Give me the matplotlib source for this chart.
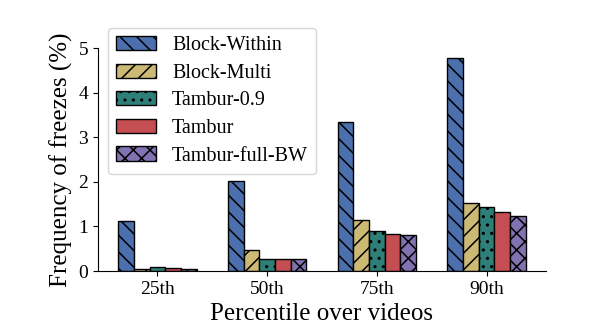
import matplotlib.pyplot as plt
import numpy as np

plt.rcParams["font.family"] = ["Liberation Serif", "DejaVu Serif"]
plt.rcParams["hatch.linewidth"] = 1.1

percentiles = ["25th", "50th", "75th", "90th"]
schemes = ["Block-Within", "Block-Multi", "Tambur-0.9", "Tambur", "Tambur-full-BW"]
block_within = [1.13, 2.02, 3.34, 4.77]
block_multi = [0.05, 0.48, 1.14, 1.52]
tambur_09 = [0.10, 0.28, 0.90, 1.43]
tambur = [0.06, 0.27, 0.83, 1.32]
tambur_full_bw = [0.05, 0.27, 0.80, 1.23]

colors = ["#4C6FAE", "#CCB974", "#2E7F78", "#C44E52", "#8172B2"]
hatches = ["\\\\", "//", "..", "", "xx"]

fig = plt.figure(figsize=(6.15, 3.35), dpi=100)
ax = fig.add_axes([0.159, 0.191, 0.729, 0.665])

x = np.arange(len(percentiles))
width = 0.143
series = [block_within, block_multi, tambur_09, tambur, tambur_full_bw]
for i, (name, vals) in enumerate(zip(schemes, series)):
    ax.bar(x + (i - 2) * width, vals, width, label=name, color=colors[i],
           hatch=hatches[i], edgecolor="black", linewidth=1.0)

ax.set_xticks(x)
ax.set_xticklabels(percentiles, fontsize=14)
ax.tick_params(axis="y", labelsize=14)
ax.set_ylim(0, 5.0)
ax.set_yticks([0, 1, 2, 3, 4, 5])
ax.set_xlabel("Percentile over videos", fontsize=18)
ax.set_ylabel("Frequency of freezes (%)", fontsize=18)
ax.spines["top"].set_visible(False)
ax.spines["right"].set_visible(False)
ax.legend(loc="upper left", fontsize=14.5, bbox_to_anchor=(0.022, 1.09),
          borderaxespad=0, handlelength=2.0, labelspacing=0.42,
          handletextpad=0.8)

fig.savefig("out.png", dpi=100)
